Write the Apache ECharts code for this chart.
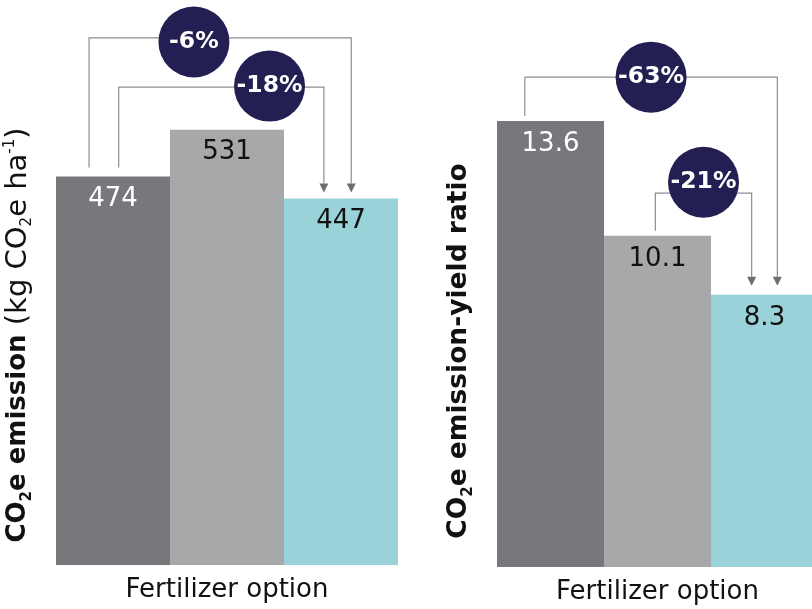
<!DOCTYPE html>
<html><head><meta charset="utf-8">
<script src="https://cdn.jsdelivr.net/npm/echarts@6/dist/echarts.min.js"></script>
<style>html,body{margin:0;padding:0;background:#fff}#c{width:812px;height:609px}</style>
</head><body><div id="c"></div>
<script>
// ---- data ----
const categories = ['Option A', 'Option B', 'Option C'];
const emissionValues = [474, 531, 447];
const ratioValues = [13.6, 10.1, 8.3];
// brackets: [fromCategoryIndex, bracketLevel (axis units), toCategoryIndex]
const emissionBrackets = [[0, 643, 2], [0, 583, 2]];
const emissionBracketLabels = ['-6%', '-18%'];
const ratioBrackets = [[0, 14.94, 2], [1, 11.4, 2]];
const ratioBracketLabels = ['-63%', '-21%'];
const xAxisTitle = 'Fertilizer option';

// ---- styles / layout ----
const barColors = ['#77787c', '#a7a8aa', '#9ad2da'];
const labelColors = ['#ffffff', '#111111', '#111111'];
const navy = '#231f52';
const FONT = 'DejaVu Sans';
// per-bracket layout: fo/to offsets in band widths, cp circle position fraction, dy circle shift
const emissionLayout = [
  {fo: -0.21, to: 0.09, cp: 0.40, dy: 4, startGap: 9, tipGap: 6},
  {fo: 0.05, to: -0.15, cp: 0.735, dy: -1, startGap: 9, tipGap: 6}
];
const ratioLayout = [
  {fo: -0.24, to: 0.12, cp: 0.5, dy: 0, startGap: 5, tipGap: 9},
  {fo: -0.02, to: -0.12, cp: 0.5, dy: -11, startGap: 5, tipGap: 9}
];

function bracketRenderer(values, labels, layout) {
  return function (params, api) {
    const i = params.dataIndex;
    const L = layout[i];
    const from = api.value(0), level = api.value(1), to = api.value(2);
    const bw = api.size([1, 0])[0];
    const p0 = api.coord([from, values[from]]);
    const x0 = p0[0] + L.fo * bw, y0 = p0[1] - L.startGap;
    const yl = api.coord([from, level])[1];
    const p2 = api.coord([to, values[to]]);
    const x2 = p2[0] + L.to * bw, tip = p2[1] - L.tipGap;
    const ah = 9, aw = 4.5;
    const cx = x0 + L.cp * (x2 - x0), cy = yl + L.dy;
    return {
      type: 'group',
      children: [
        {type: 'polyline', shape: {points: [[x0, y0], [x0, yl], [x2, yl], [x2, tip - ah]]},
         style: {stroke: '#8e8e8e', lineWidth: 1.2, fill: null}},
        {type: 'polygon', shape: {points: [[x2 - aw, tip - ah], [x2 + aw, tip - ah], [x2, tip]]},
         style: {fill: '#6d6e71'}},
        {type: 'circle', shape: {cx: cx, cy: cy, r: 35.5}, style: {fill: navy}},
        {type: 'text', x: cx, y: cy,
         style: {text: labels[i], fill: '#fff', font: 'bold 23.5px "' + FONT + '"', align: 'center', verticalAlign: 'middle'}}
      ]
    };
  };
}

function barData(vals) {
  return vals.map((v, i) => ({value: v, itemStyle: {color: barColors[i]}, label: {color: labelColors[i]}}));
}

const hiddenY = {type: 'value', min: 0, axisLine: {show: false}, axisTick: {show: false}, axisLabel: {show: false}, splitLine: {show: false}};
const xBase = {
  type: 'category', data: categories, axisLine: {show: false}, axisTick: {show: false}, axisLabel: {show: false},
  name: xAxisTitle, nameLocation: 'middle', nameGap: 12,
  nameTextStyle: {fontFamily: FONT, fontSize: 26, color: '#111'}
};
const barLabel = {show: true, position: 'insideTop', distance: 10, fontFamily: FONT, fontSize: 26};

const chart = echarts.init(document.getElementById('c'), null, {renderer: 'canvas'});
chart.setOption({
  animation: false,
  backgroundColor: '#fff',
  grid: [
    {left: 56, top: 24, width: 342, height: 541, outerBoundsMode: 'none'},
    {left: 497, top: 26, width: 321, height: 541, outerBoundsMode: 'none'}
  ],
  xAxis: [Object.assign({gridIndex: 0}, xBase), Object.assign({gridIndex: 1}, xBase)],
  yAxis: [Object.assign({gridIndex: 0, max: 660}, hiddenY), Object.assign({gridIndex: 1, max: 16.5}, hiddenY)],
  series: [
    {type: 'bar', xAxisIndex: 0, yAxisIndex: 0, barCategoryGap: '0%', data: barData(emissionValues), label: barLabel},
    {type: 'bar', xAxisIndex: 1, yAxisIndex: 1, barCategoryGap: '0%', data: barData(ratioValues), label: barLabel},
    {type: 'custom', xAxisIndex: 0, yAxisIndex: 0, clip: false, z: 5, encode: {x: 0, y: 1},
     renderItem: bracketRenderer(emissionValues, emissionBracketLabels, emissionLayout), data: emissionBrackets},
    {type: 'custom', xAxisIndex: 1, yAxisIndex: 1, clip: false, z: 5, encode: {x: 0, y: 1},
     renderItem: bracketRenderer(ratioValues, ratioBracketLabels, ratioLayout), data: ratioBrackets}
  ],
  graphic: [
    {type: 'text', x: 18, y: 335, rotation: Math.PI / 2,
     style: {
       text: '{b|CO}{bs|2}{b|e emission}{n| (kg CO}{ns|2}{n|e ha}{sup|-1}{n|)}',
       align: 'center', verticalAlign: 'middle',
       rich: {
         b: {fontFamily: FONT, fontWeight: 'bold', fontSize: 26, fill: '#111'},
         bs: {fontFamily: FONT, fontWeight: 'bold', fontSize: 15, fill: '#111', padding: [18, 0, 0, 0]},
         n: {fontFamily: FONT, fontSize: 29, fill: '#111'},
         ns: {fontFamily: FONT, fontSize: 15, fill: '#111', padding: [18, 0, 0, 0]},
         sup: {fontFamily: FONT, fontSize: 15, fill: '#111', padding: [0, 0, 16, 0]}
       }
     }},
    {type: 'text', x: 459, y: 351, rotation: Math.PI / 2,
     style: {
       text: '{b|CO}{bs|2}{b|e emission-yield ratio}',
       align: 'center', verticalAlign: 'middle',
       rich: {
         b: {fontFamily: FONT, fontWeight: 'bold', fontSize: 26.5, fill: '#111'},
         bs: {fontFamily: FONT, fontWeight: 'bold', fontSize: 15, fill: '#111', padding: [18, 0, 0, 0]}
       }
     }}
  ]
});
</script></body></html>
